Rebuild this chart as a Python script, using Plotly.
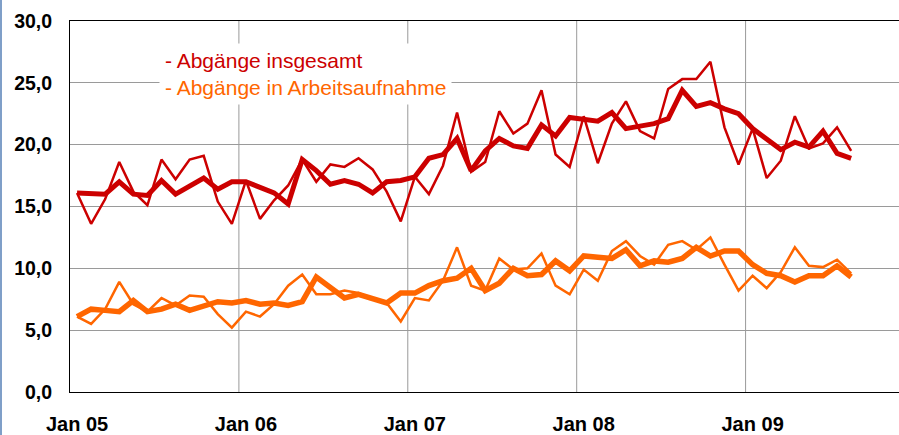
import plotly.graph_objects as go

# Monthly values Jan 2005 - Aug 2009 (in thousands)
abgaenge_insgesamt = [
    16.1, 13.6, 15.6, 18.6, 16.2, 15.1, 18.8, 17.2, 18.8, 19.1, 15.4, 13.6,
    17.1, 14.0, 15.5, 16.7, 18.8, 17.0, 18.4, 18.2, 18.9, 18.0, 16.2, 13.8,
    17.4, 16.0, 18.3, 22.6, 17.8, 18.6, 22.7, 20.9, 21.7, 24.4, 19.2, 18.2,
    22.3, 18.5, 21.7, 23.5, 21.1, 20.5, 24.5, 25.3, 25.3, 26.7, 21.4, 18.4,
    21.3, 17.3, 18.7, 22.3, 19.7, 20.1, 21.4, 19.5,
]
abgaenge_insgesamt_trend = [
    16.1, 16.1, 16.0, 17.0, 16.0, 15.9, 17.1, 16.0, 16.6, 17.3, 16.4, 17.0,
    17.0, 16.5, 16.1, 15.2, 18.8, 17.9, 16.8, 17.1, 16.8, 16.1, 17.0, 17.1,
    17.4, 18.9, 19.2, 20.5, 17.9, 19.5, 20.5, 19.9, 19.7, 21.6, 20.7, 22.2,
    22.1, 21.9, 22.6, 21.3, 21.5, 21.7, 22.1, 24.4, 23.1, 23.4, 22.9, 22.5,
    21.3, 20.4, 19.6, 20.2, 19.8, 21.1, 19.3, 18.9,
]
abgaenge_arbeit = [
    6.1, 5.5, 6.7, 8.9, 7.1, 6.5, 7.6, 7.0, 7.8, 7.7, 6.3, 5.2,
    6.5, 6.1, 7.1, 8.6, 9.5, 7.9, 7.9, 8.2, 8.0, 7.5, 7.2, 5.7,
    7.6, 7.4, 9.0, 11.7, 8.6, 8.2, 10.8, 9.9, 10.0, 11.2, 8.6, 7.9,
    9.9, 9.0, 11.4, 12.2, 11.0, 10.3, 11.9, 12.2, 11.5, 12.5, 10.3, 8.2,
    9.4, 8.4, 9.7, 11.7, 10.2, 10.1, 10.7, 9.6,
]
abgaenge_arbeit_trend = [
    6.1, 6.7, 6.6, 6.5, 7.4, 6.5, 6.7, 7.1, 6.6, 7.0, 7.3, 7.2,
    7.4, 7.1, 7.2, 7.0, 7.3, 9.3, 8.4, 7.6, 7.9, 7.5, 7.2, 8.0,
    8.0, 8.6, 9.0, 9.2, 10.0, 8.2, 8.8, 10.0, 9.4, 9.5, 10.6, 9.8,
    11.0, 10.9, 10.8, 11.5, 10.2, 10.6, 10.5, 10.8, 11.7, 11.0, 11.4, 11.4,
    10.3, 9.6, 9.4, 8.9, 9.4, 9.4, 10.2, 9.3,
]
year_labels = ["Jan 05", "Jan 06", "Jan 07", "Jan 08", "Jan 09"]
y_ticks = [0, 5, 10, 15, 20, 25, 30]

RED = "#CC0000"
ORANGE = "#FF6600"
GRID = "#9a9a9a"

months = list(range(len(abgaenge_insgesamt)))
year_pos = [12 * k for k in range(len(year_labels))]
year_bounds = [12 * k - 0.5 for k in range(1, len(year_labels))]

fig = go.Figure()
for ys, col, w in [
    (abgaenge_insgesamt, RED, 2.5),
    (abgaenge_insgesamt_trend, RED, 5),
    (abgaenge_arbeit, ORANGE, 2.5),
    (abgaenge_arbeit_trend, ORANGE, 5.5),
]:
    fig.add_trace(go.Scatter(
        x=months, y=ys, mode="lines",
        line=dict(color=col, width=w, shape="linear"),
        hoverinfo="skip", showlegend=False,
    ))

# vertical grid lines sit on the year boundaries between categories
for xb in year_bounds:
    fig.add_shape(type="line", xref="x", yref="paper", x0=xb, x1=xb, y0=0, y1=1,
                  line=dict(color=GRID, width=1), layer="below")

# thin steel-blue frame on the left edge
fig.add_shape(type="line", xref="paper", yref="paper",
              x0=-69.0 / 829, x1=-69.0 / 829, y0=-0.2, y1=1.2,
              line=dict(color="#7f9fc8", width=2))

fig.add_annotation(
    xref="paper", yref="paper", x=89.0 / 829, y=(394 - 43) / 373.0,
    xanchor="left", yanchor="top", align="left", showarrow=False,
    bgcolor="white", borderpad=5,
    text=(f"<span style='color:{RED}'>- Abgänge insgesamt</span><br>"
          f"<span style='color:{ORANGE}'>- Abgänge in Arbeitsaufnahme</span>"),
    font=dict(family="Liberation Sans, Arial", size=21),
)

fig.update_layout(
    width=899, height=435,
    margin=dict(l=70, r=0, t=21, b=41),
    paper_bgcolor="white", plot_bgcolor="white",
    separators=",.",
    font=dict(family="Liberation Sans, Arial", color="black"),
    xaxis=dict(
        range=[-0.5, 58.4], tickmode="array", tickvals=year_pos, ticktext=year_labels,
        showgrid=False, zeroline=False, showline=True, mirror=True,
        linecolor="black", linewidth=1, ticks="",
        tickfont=dict(size=20, family="Liberation Sans, Arial", weight="bold"),
        ticklabelstandoff=14,
    ),
    yaxis=dict(
        range=[0, 30], tickmode="array", tickvals=y_ticks, tickformat=".1f",
        showgrid=True, gridcolor=GRID, gridwidth=1, zeroline=False,
        showline=True, linecolor="black", linewidth=1, ticks="",
        tickfont=dict(size=19.5, family="Liberation Sans, Arial", weight="bold"),
        ticklabelstandoff=13,
    ),
)

fig.write_html("out.html")
